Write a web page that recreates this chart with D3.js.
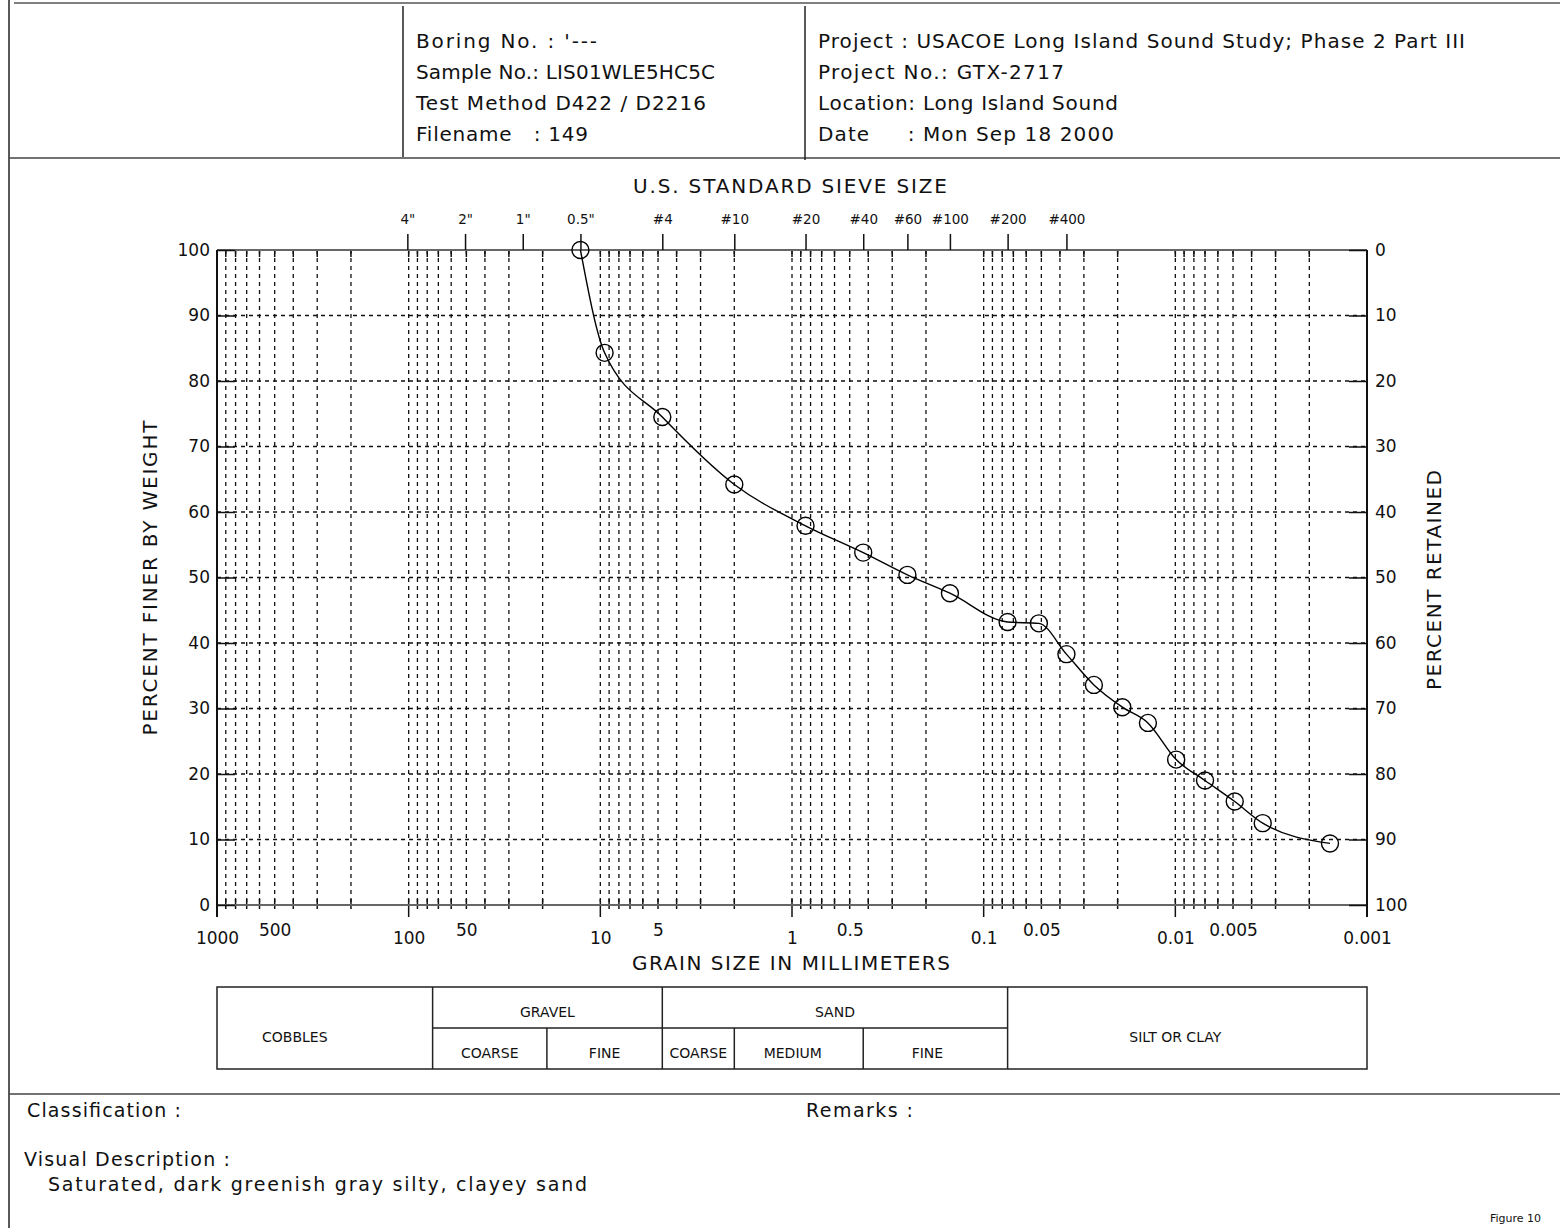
<!DOCTYPE html>
<html><head><meta charset="utf-8">
<script src="https://cdn.jsdelivr.net/npm/d3@7/dist/d3.min.js"></script>
<style>
body{margin:0;background:#fff}
svg{display:block}
text{font-family:"DejaVu Sans",sans-serif;fill:#111}
</style>
</head><body>
<svg id="c" width="1560" height="1228"></svg>
<script>
// ---- data ----
const grainSize = [12.7, 9.5, 4.75, 2.0, 0.85, 0.425, 0.25, 0.15, 0.075, 0.0515, 0.037, 0.0266, 0.0189, 0.0139, 0.0099, 0.0070, 0.0049, 0.0035, 0.00156];
const percentFiner = [100, 84.3, 74.5, 64.2, 57.9, 53.8, 50.4, 47.6, 43.2, 43.0, 38.3, 33.6, 30.2, 27.8, 22.2, 19.0, 15.8, 12.5, 9.4];
const sieveLabels = ['4"', '2"', '1"', '0.5"', '#4', '#10', '#20', '#40', '#60', '#100', '#200', '#400'];
const sieveSizes = [101.6, 50.8, 25.4, 12.7, 4.75, 2.0, 0.85, 0.425, 0.25, 0.15, 0.075, 0.037];
const xTickValues = [1000, 500, 100, 50, 10, 5, 1, 0.5, 0.1, 0.05, 0.01, 0.005, 0.001];
const xTickLabels = ["1000", "500", "100", "50", "10", "5", "1", "0.5", "0.1", "0.05", "0.01", "0.005", "0.001"];
const yTickValues = [0, 10, 20, 30, 40, 50, 60, 70, 80, 90, 100];
const classBounds = [1000, 75, 19, 4.75, 2, 0.425, 0.075, 0.001];
const headerLeft = ["Boring No. : '---", "Sample No.: LIS01WLE5HC5C", "Test Method D422 / D2216", "Filename   : 149"];
const headerRight = ["Project : USACOE Long Island Sound Study; Phase 2 Part III", "Project No.: GTX-2717", "Location: Long Island Sound", "Date     : Mon Sep 18 2000"];
const headerLeftWidth = [181, 299, 290, 172];
const headerRightWidth = [647, 246, 300, 296];

const svg = d3.select("#c");
svg.append("rect").attr("width",1560).attr("height",1228).attr("fill","#fff");

const L = 217, R = 1367, T = 250, B = 905;
const x = d3.scaleLog().domain([1000, 0.001]).range([L, R]);
const y = d3.scaleLinear().domain([0, 100]).range([B, T]);

// ---- page frame ----
const frame = svg.append("g").attr("stroke","#222").attr("stroke-width",1.5).attr("fill","none");
frame.append("line").attr("x1",9).attr("x2",9).attr("y1",0).attr("y2",1228);
frame.append("line").attr("x1",14).attr("x2",1560).attr("y1",3).attr("y2",3).attr("stroke","#555");
frame.append("line").attr("x1",9).attr("x2",1560).attr("y1",158).attr("y2",158).attr("stroke","#444");
frame.append("line").attr("x1",403).attr("x2",403).attr("y1",6).attr("y2",157);
frame.append("line").attr("x1",805).attr("x2",805).attr("y1",6).attr("y2",160);
frame.append("line").attr("x1",9).attr("x2",1560).attr("y1",1094).attr("y2",1094).attr("stroke","#444");

// header text
svg.append("g").selectAll("text").data(headerLeft).join("text")
  .attr("x",416).attr("y",(d,i)=>48+i*31).attr("font-size",20)
  .attr("textLength",(d,i)=>headerLeftWidth[i]).attr("lengthAdjust","spacing")
  .style("white-space","pre").text(d=>d);
svg.append("g").selectAll("text").data(headerRight).join("text")
  .attr("x",818).attr("y",(d,i)=>48+i*31).attr("font-size",20)
  .attr("textLength",(d,i)=>headerRightWidth[i]).attr("lengthAdjust","spacing")
  .style("white-space","pre").text(d=>d);

// ---- grid ----
const minor = [];
for (let e = 2; e >= -3; e--) for (let k = 9; k >= 1; k--) { const v = k*Math.pow(10,e); if (v < 1000 && v > 0.001) minor.push(v); }
const grid = svg.append("g");
grid.selectAll("line.v").data(minor).join("line").attr("class","v")
  .attr("x1",d=>x(d)).attr("x2",d=>x(d)).attr("y1",T).attr("y2",B)
  .attr("stroke","#111").attr("stroke-width",1.3).attr("stroke-dasharray","4,4");
grid.selectAll("line.h").data(yTickValues.filter(v=>v>0&&v<100)).join("line").attr("class","h")
  .attr("x1",L).attr("x2",R).attr("y1",d=>y(d)).attr("y2",d=>y(d))
  .attr("stroke","#111").attr("stroke-width",1.3).attr("stroke-dasharray","4,4");

// minor ticks on top/bottom edges
grid.selectAll("line.bt").data(minor).join("line").attr("class","bt")
  .attr("x1",d=>x(d)).attr("x2",d=>x(d)).attr("y1",B-6)
  .attr("y2",d=>Math.abs(Math.log10(d)-Math.round(Math.log10(d)))<1e-9 ? B+12 : B+4)
  .attr("stroke","#111").attr("stroke-width",1.5);
grid.selectAll("line.tt").data(minor).join("line").attr("class","tt")
  .attr("x1",d=>x(d)).attr("x2",d=>x(d)).attr("y1",T).attr("y2",T+7)
  .attr("stroke","#111").attr("stroke-width",1.5);

// frame lines of the plot
svg.append("line").attr("x1",L).attr("x2",R).attr("y1",T).attr("y2",T).attr("stroke","#666").attr("stroke-width",2);
svg.append("line").attr("x1",L).attr("x2",R).attr("y1",B).attr("y2",B).attr("stroke","#666").attr("stroke-width",2);
svg.append("line").attr("x1",L).attr("x2",L).attr("y1",T).attr("y2",B+12).attr("stroke","#111").attr("stroke-width",2);
svg.append("line").attr("x1",R).attr("x2",R).attr("y1",T).attr("y2",B+12).attr("stroke","#111").attr("stroke-width",2);

// ---- y axes ----
const yl = svg.append("g").attr("transform",`translate(${L},0)`)
  .call(d3.axisLeft(y).tickValues(yTickValues).tickSizeInner(-18).tickSizeOuter(0).tickPadding(7));
yl.select(".domain").remove();
yl.selectAll("line").attr("stroke","#111").attr("stroke-width",1.5);
yl.selectAll("text").attr("font-size",17).attr("font-family","DejaVu Sans").attr("fill","#111");

const yr = svg.append("g").attr("transform",`translate(${R},0)`)
  .call(d3.axisRight(y).tickValues(yTickValues).tickSizeInner(-18).tickSizeOuter(0).tickPadding(8)
  .tickFormat(d=>String(100-d)));
yr.select(".domain").remove();
yr.selectAll("line").attr("stroke","#111").attr("stroke-width",1.5);
yr.selectAll("text").attr("font-size",17).attr("font-family","DejaVu Sans").attr("fill","#111");

// ---- x axis labels ----
const xb = svg.append("g").attr("transform",`translate(0,${B})`)
  .call(d3.axisBottom(x).tickValues(xTickValues).tickSize(0).tickPadding(0)
  .tickFormat((d,i)=>xTickLabels[i]));
xb.select(".domain").remove();
xb.selectAll("text").attr("font-size",17).attr("font-family","DejaVu Sans").attr("fill","#111")
  .attr("dy",null).attr("y",(d,i)=> i%2===1 ? 31 : 39);

// ---- top sieve axis ----
const xt = svg.append("g").attr("transform",`translate(0,${T})`)
  .call(d3.axisTop(x).tickValues(sieveSizes).tickSize(16).tickPadding(10)
  .tickFormat((d,i)=>sieveLabels[i]));
xt.select(".domain").remove();
xt.selectAll("line").attr("stroke","#111").attr("stroke-width",1.5);
xt.selectAll("text").attr("font-size",13.5).attr("font-family","DejaVu Sans").attr("fill","#111");

// titles
svg.append("text").attr("x",790).attr("y",193).attr("text-anchor","middle").attr("font-size",20)
  .attr("textLength",314).attr("lengthAdjust","spacing").text("U.S. STANDARD SIEVE SIZE");
svg.append("text").attr("x",791).attr("y",970).attr("text-anchor","middle").attr("font-size",20)
  .attr("textLength",318).attr("lengthAdjust","spacing").text("GRAIN SIZE IN MILLIMETERS");
svg.append("text").attr("transform","translate(157,578) rotate(-90)").attr("text-anchor","middle").attr("font-size",20)
  .attr("textLength",315).attr("lengthAdjust","spacing").text("PERCENT FINER BY WEIGHT");
svg.append("text").attr("transform","translate(1441,580) rotate(-90)").attr("text-anchor","middle").attr("font-size",20)
  .attr("textLength",220).attr("lengthAdjust","spacing").text("PERCENT RETAINED");

// ---- data curve ----
const pts = grainSize.map((g,i)=>[x(g), y(percentFiner[i])]);
svg.append("path").attr("d", d3.line().curve(d3.curveMonotoneX)(pts))
  .attr("fill","none").attr("stroke","#000").attr("stroke-width",1.4);
svg.append("g").selectAll("circle").data(pts).join("circle")
  .attr("cx",d=>d[0]).attr("cy",d=>d[1]).attr("r",8.5)
  .attr("fill","none").attr("stroke","#000").attr("stroke-width",1.4);

// ---- classification table ----
const tT = 987, tM = 1028, tB = 1069;
const tb = svg.append("g").attr("stroke","#222").attr("stroke-width",1.5).attr("fill","none");
tb.append("rect").attr("x",x(classBounds[0])).attr("y",tT).attr("width",x(classBounds[7])-x(classBounds[0])).attr("height",tB-tT);
[1,3,6].forEach(i=>tb.append("line").attr("x1",x(classBounds[i])).attr("x2",x(classBounds[i])).attr("y1",tT).attr("y2",tB));
[2,4,5].forEach(i=>tb.append("line").attr("x1",x(classBounds[i])).attr("x2",x(classBounds[i])).attr("y1",tM).attr("y2",tB));
tb.append("line").attr("x1",x(classBounds[1])).attr("x2",x(classBounds[6])).attr("y1",tM).attr("y2",tM);
const mid = (a,b)=> (x(classBounds[a])+x(classBounds[b]))/2;
const tLabels = [
  ["COBBLES", mid(0,1)-30, 1042],
  ["GRAVEL", mid(1,3), 1017], ["SAND", mid(3,6), 1017],
  ["COARSE", mid(1,2), 1058], ["FINE", mid(2,3), 1058],
  ["COARSE", mid(3,4), 1058], ["MEDIUM", mid(4,5)-6, 1058], ["FINE", mid(5,6)-8, 1058],
  ["SILT OR CLAY", mid(6,7)-12, 1042]
];
svg.append("g").selectAll("text").data(tLabels).join("text")
  .attr("x",d=>d[1]).attr("y",d=>d[2]).attr("text-anchor","middle").attr("font-size",14).text(d=>d[0]);

// ---- footer ----
const footer = [["Classification :",27,1117,19,154],["Remarks :",806,1117,19,107],["Visual Description :",24,1166,19,206],
  ["Saturated, dark greenish gray silty, clayey sand",48,1191,19,539],["Figure 10",1490,1222,11,null]];
svg.append("g").selectAll("text").data(footer).join("text")
  .attr("x",d=>d[1]).attr("y",d=>d[2]).attr("font-size",d=>d[3])
  .attr("textLength",d=>d[4]).attr("lengthAdjust","spacing").text(d=>d[0]);
</script>
</body></html>
